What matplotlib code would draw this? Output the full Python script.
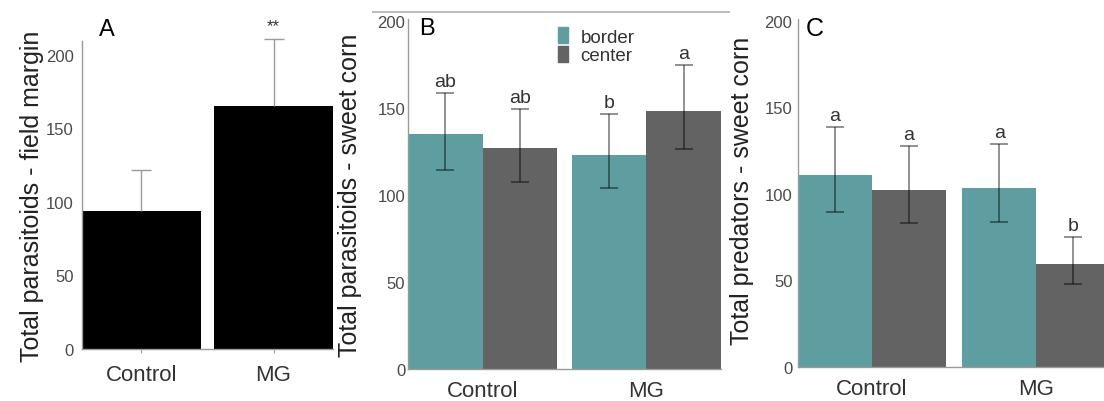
import numpy as np
import matplotlib
matplotlib.use("Agg")
import matplotlib.pyplot as plt
from matplotlib.patches import Patch
from matplotlib.lines import Line2D

plt.rcParams['font.family'] = ['Liberation Sans', 'DejaVu Sans']

# ---- data ----
groups = ["Control", "MG"]

# A: field margin parasitoids
a_mean = [94, 165]
a_err_up = [28, 46]
a_sig = ["", "**"]

# B: parasitoids in sweet corn (border / center)
b_border = [135, 123]
b_border_lo = [114, 104]
b_border_hi = [158.5, 146.5]
b_center = [127, 148]
b_center_lo = [107.5, 126.5]
b_center_hi = [149.5, 174.5]
b_letters_border = ["ab", "b"]
b_letters_center = ["ab", "a"]

# C: predators in sweet corn (border / center)
c_border = [111, 103.5]
c_border_lo = [89.5, 84]
c_border_hi = [138.5, 129]
c_center = [102, 59.5]
c_center_lo = [83, 48]
c_center_hi = [127.5, 75]
c_letters_border = ["a", "a"]
c_letters_center = ["a", "b"]

TEAL = "#5f9ea0"
DARK = "#636363"
W, H = 1104, 402

fig = plt.figure(figsize=(W / 100, H / 100), dpi=100)


def axes_px(left, right, bottom, top):
    """axes from pixel box (top-left origin)"""
    return fig.add_axes([left / W, (H - bottom) / H, (right - left) / W, (bottom - top) / H])


def style(ax, ticklen, ypad):
    for s in ["top", "right"]:
        ax.spines[s].set_visible(False)
    for s in ["left", "bottom"]:
        ax.spines[s].set_color("#9a9a9a")
        ax.spines[s].set_linewidth(1.0)
    ax.tick_params(axis="y", length=0, pad=ypad, labelsize=12, labelcolor="#4a4a4a")
    ax.tick_params(axis="x", length=ticklen, color="#9a9a9a", pad=8, labelsize=16, labelcolor="#333333")
    ax.set_yticks([0, 50, 100, 150, 200])


x = np.arange(len(groups))

# ---------- A ----------
axA = axes_px(82, 333, 350, 42)
axA.bar(x, a_mean, width=0.9, color="black")
eb = axA.errorbar(x, a_mean, yerr=[np.zeros(2), a_err_up], fmt="none",
                  ecolor="#9a9a9a", elinewidth=1.0, capsize=7, capthick=1.0)
eb[1][0].set_visible(False)  # no lower cap
for art in list(eb[1]) + list(eb[2]):
    art.set_clip_on(False)
for xi, m, e, s in zip(x, a_mean, a_err_up, a_sig):
    if s:
        axA.annotate(s, (xi, m + e), xytext=(0, 4), textcoords="offset points",
                     ha="center", va="bottom", fontsize=12, color="#333333",
                     annotation_clip=False)
axA.set_xlim(-0.45, 1.45)
axA.set_ylim(0, 209.5)
style(axA, 3, 6)
axA.set_xticks(x)
axA.set_xticklabels(groups)
axA.set_ylabel("Total parasitoids - field margin", fontsize=18, color="#222222")
axA.yaxis.set_label_coords(-0.151, 0.5)
axA.text(0.1, 1.04, "A", transform=axA.transAxes, fontsize=17, ha="center", va="center")


def grouped(ax, border, blo, bhi, center, clo, chi, lb, lc, w, ypad):
    xb = x - w / 2
    xc = x + w / 2
    ax.bar(xb, border, width=w, color=TEAL)
    ax.bar(xc, center, width=w, color=DARK)
    for xs, m, lo, hi, lab in [(xb, border, blo, bhi, lb), (xc, center, clo, chi, lc)]:
        m = np.array(m)
        yerr = [m - np.array(lo), np.array(hi) - m]
        ax.errorbar(xs, m, yerr=yerr, fmt="none", ecolor="black", alpha=0.5,
                    elinewidth=1.2, capsize=6.5, capthick=1.2)
        for xi, h, t in zip(xs, hi, lab):
            ax.annotate(t, (xi, h), xytext=(0, 2), textcoords="offset points",
                        ha="center", va="bottom", fontsize=14, color="#333333")
    ax.set_xlim(-w, 1 + w)
    ax.set_ylim(0, 201)
    style(ax, 0, ypad)
    ax.set_xticks(x)
    ax.set_xticklabels(groups)


# ---------- B ----------
axB = axes_px(408, 721, 370, 20)
grouped(axB, b_border, b_border_lo, b_border_hi, b_center, b_center_lo, b_center_hi,
        b_letters_border, b_letters_center, 0.455, 2)
axB.set_ylabel("Total parasitoids - sweet corn", fontsize=18, color="#222222")
axB.yaxis.set_label_coords(-0.147, 0.5)
axB.text(0.06, 0.975, "B", transform=axB.transAxes, fontsize=17, ha="center", va="center")
axB.legend(handles=[Patch(color=TEAL), Patch(color=DARK)], labels=["border", "center"],
           loc="upper left", bbox_to_anchor=((558 - 408) / 313, (370 - 28) / 350),
           frameon=False, fontsize=13.5, labelspacing=0.0, handlelength=0.55,
           handleheight=0.95, handletextpad=0.65, borderpad=0, borderaxespad=0,
           labelcolor="#333333")

# ---------- C ----------
axC = axes_px(798, 1110, 368, 20)
grouped(axC, c_border, c_border_lo, c_border_hi, c_center, c_center_lo, c_center_hi,
        c_letters_border, c_letters_center, 0.45, 4)
axC.set_ylabel("Total predators - sweet corn", fontsize=18, color="#222222")
axC.yaxis.set_label_coords(-0.141, 0.51)
axC.text(0.055, 0.975, "C", transform=axC.transAxes, fontsize=18, ha="center", va="center")

# thin grey rule above panel B
fig.add_artist(Line2D([373 / W, 729 / W], [(H - 13) / H] * 2, color="#bdbdbd", lw=1.5))

fig.savefig("out.png", dpi=100)
